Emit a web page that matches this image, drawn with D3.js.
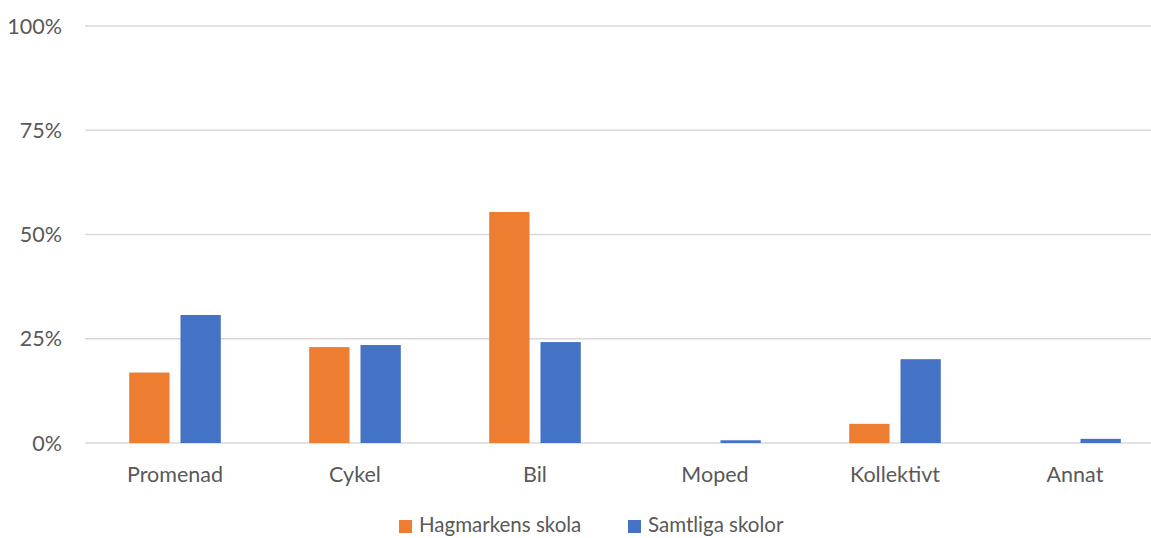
<!DOCTYPE html>
<html><head><meta charset="utf-8">
<script src="https://cdn.jsdelivr.net/npm/d3@7"></script>
<style>body{margin:0;background:#fff;overflow:hidden}svg{display:block}</style>
</head><body>
<script>
const categories = ["Promenad","Cykel","Bil","Moped","Kollektivt","Annat"];
const seriesNames = ["Hagmarkens skola","Samtliga skolor"];
const hagmarken = [16.9, 23.0, 55.4, 0, 4.6, 0];
const samtliga = [30.7, 23.5, 24.2, 0.65, 20.1, 1.0];
const yTicks = [0, 25, 50, 75, 100];
const colors = ["#ED7D31", "#4472C4"];

const W = 1151, H = 538;
const svg = d3.select("body").append("svg").attr("width", W).attr("height", H);
const font = "Lato, 'Open Sans', sans-serif";
const fs = "21.5px";

const x = d3.scaleBand().domain(categories).range([85, 1165]).paddingInner(0).paddingOuter(0);
const y = d3.scaleLinear().domain([0, 100]).range([443, 26]);
const inner = d3.scaleBand().domain(seriesNames).range([x.bandwidth()/2 - 45.8, x.bandwidth()/2 + 45.8]).paddingInner(0.214);

// gridlines
svg.append("g").selectAll("line").data(yTicks).join("line")
  .attr("x1", 85).attr("x2", W).attr("y1", d => y(d)).attr("y2", d => y(d))
  .attr("stroke", "#d9d9d9").attr("stroke-width", 1.5);

// y labels
svg.append("g").selectAll("text").data(yTicks).join("text")
  .attr("x", 62).attr("y", d => y(d)).attr("dy", "0.35em")
  .attr("text-anchor", "end").attr("fill", "#595959")
  .style("font-family", font).style("font-size", fs)
  .text(d => d + "%");

const data = categories.map((c, i) => ({c, vals: [hagmarken[i], samtliga[i]]}));
const groups = svg.append("g").selectAll("g").data(data).join("g")
  .attr("transform", d => `translate(${x(d.c)},0)`);
groups.selectAll("rect").data(d => d.vals.map((v, j) => ({v, s: seriesNames[j], j})))
  .join("rect")
  .attr("x", d => inner(d.s)).attr("width", inner.bandwidth())
  .attr("y", d => y(d.v)).attr("height", d => y(0) - y(d.v))
  .attr("fill", d => colors[d.j]);

// x labels
svg.append("g").selectAll("text").data(categories).join("text")
  .attr("x", d => x(d) + x.bandwidth()/2).attr("y", 474)
  .attr("dy", "0.35em").attr("text-anchor", "middle").attr("fill", "#595959")
  .style("font-family", font).style("font-size", fs)
  .text(d => d);

// legend
const legX = [399, 628];
const leg = svg.append("g").selectAll("g").data(seriesNames).join("g")
  .attr("transform", (d, i) => `translate(${legX[i]},520)`);
leg.append("rect").attr("width", 13).attr("height", 13).attr("fill", (d, i) => colors[i]);
leg.append("text").attr("x", 20).attr("y", 12)
  .attr("fill", "#595959").style("font-family", font).style("font-size", "20.5px")
  .text(d => d);
</script>
</body></html>
